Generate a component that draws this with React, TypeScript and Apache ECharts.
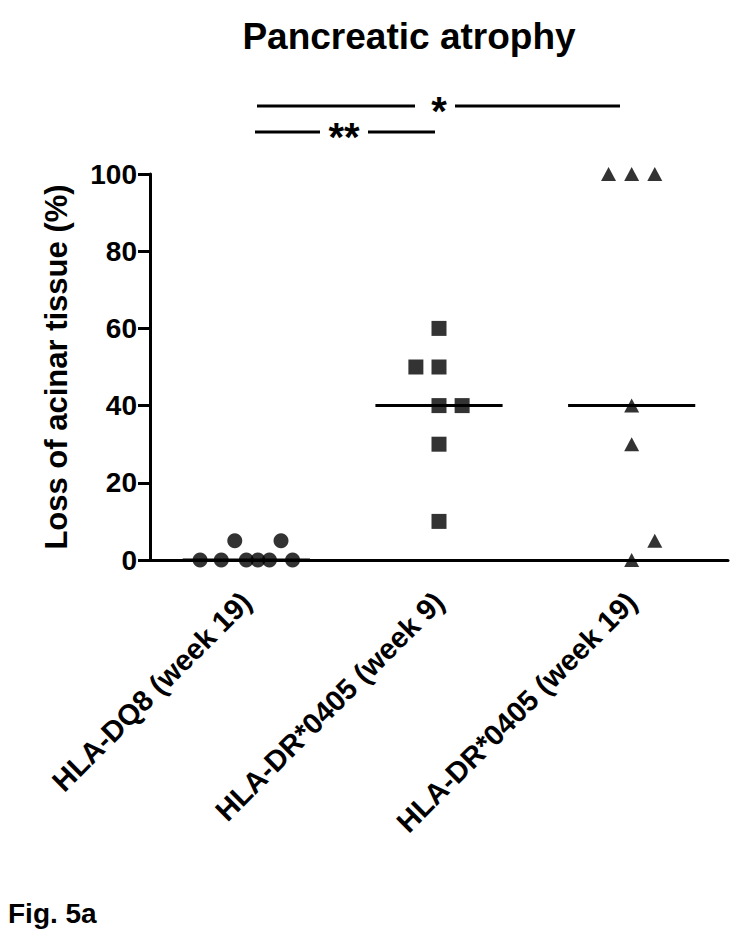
import React, { useEffect, useRef } from "react";
import * as echarts from "echarts";

const categories = ["HLA-DQ8 (week 19)", "HLA-DR*0405 (week 9)", "HLA-DR*0405 (week 19)"];

const dq8Values = [0, 0, 0, 0, 0, 0, 5, 5];
const dq8Offsets = [-0.24, -0.13, 0, 0.06, 0.12, 0.24, -0.06, 0.18];
const dr9Values = [60, 50, 50, 40, 40, 30, 10];
const dr9Offsets = [0, -0.12, 0, 0, 0.12, 0, 0];
const dr19Values = [100, 100, 100, 40, 30, 5, 0];
const dr19Offsets = [-0.12, 0, 0.12, 0, 0, 0.12, 0];
const medians = [0, 40, 40];
const medianHalfWidth = 0.33;

const FONT = "'Liberation Sans', Arial, Helvetica, sans-serif";

function pts(group: number, values: number[], offsets: number[]) {
  return values.map((v, i) => [group + offsets[i], v]);
}

export default function App() {
  const ref = useRef<HTMLDivElement>(null);
  useEffect(() => {
    document.body.style.margin = "0";
    if (!ref.current) return;
    const chart = echarts.init(ref.current, undefined, { renderer: "svg" });
    const markerBase = { type: "scatter", xAxisIndex: 1, yAxisIndex: 0, clip: false, z: 5, itemStyle: { color: "#000" } };
    const medianSeries = medians.map((m, i) => ({
      type: "line",
      xAxisIndex: 1,
      yAxisIndex: 0,
      symbol: "none",
      clip: false,
      z: 3,
      lineStyle: { color: "#000", width: 3 },
      data: [[i - medianHalfWidth, m], [i + medianHalfWidth, m]],
    }));
    const lineStyle = { stroke: "#000", lineWidth: 3 };
    chart.setOption({
      animation: false,
      backgroundColor: "#fff",
      title: {
        text: "Pancreatic atrophy",
        left: 404,
        top: 13,
        textAlign: "center",
        textStyle: { fontFamily: FONT, fontSize: 37, fontWeight: "bold", color: "#000" },
      },
      grid: { left: 150, right: 22, top: 174, bottom: 379 },
      xAxis: [
        {
          type: "category",
          data: categories,
          boundaryGap: true,
          axisLine: { lineStyle: { color: "#000", width: 3 } },
          axisTick: { alignWithLabel: true, length: 10, lineStyle: { color: "#000", width: 3 } },
          axisLabel: {
            interval: 0,
            rotate: 45,
            margin: 37,
            fontFamily: FONT,
            fontSize: 29,
            fontWeight: "bold",
            color: "#000",
          },
          splitLine: { show: false },
        },
        { type: "value", min: -0.5, max: 2.5, show: false },
      ],
      yAxis: {
        type: "value",
        min: 0,
        max: 100,
        interval: 20,
        name: "Loss of acinar tissue (%)",
        nameLocation: "middle",
        nameGap: 78,
        nameTextStyle: { fontFamily: FONT, fontSize: 31, fontWeight: "bold", color: "#000" },
        axisLine: { show: true, onZero: false, lineStyle: { color: "#000", width: 3 } },
        axisTick: { show: true, length: 12, lineStyle: { color: "#000", width: 3 } },
        axisLabel: { margin: 13, fontFamily: FONT, fontSize: 28, fontWeight: "bold", color: "#000" },
        splitLine: { show: false },
      },
      series: [
        ...medianSeries,
        { ...markerBase, symbol: "circle", symbolSize: 15, data: pts(0, dq8Values, dq8Offsets) },
        { ...markerBase, symbol: "rect", symbolSize: 15, data: pts(1, dr9Values, dr9Offsets) },
        { ...markerBase, symbol: "triangle", symbolSize: [15, 14], data: pts(2, dr19Values, dr19Offsets) },
      ],
      graphic: [
        { type: "line", shape: { x1: 257, y1: 106, x2: 415, y2: 106 }, style: lineStyle },
        { type: "line", shape: { x1: 455, y1: 106, x2: 620, y2: 106 }, style: lineStyle },
        { type: "text", x: 439, y: 91, style: { text: "*", fontFamily: FONT, fontSize: 40, fontWeight: "bold", fill: "#000", textAlign: "center", textVerticalAlign: "top" } },
        { type: "line", shape: { x1: 255, y1: 132, x2: 320, y2: 132 }, style: lineStyle },
        { type: "line", shape: { x1: 368, y1: 132, x2: 435, y2: 132 }, style: lineStyle },
        { type: "text", x: 344, y: 117, style: { text: "**", fontFamily: FONT, fontSize: 40, fontWeight: "bold", fill: "#000", textAlign: "center", textVerticalAlign: "top" } },
        { type: "text", left: 8, top: 899, style: { text: "Fig. 5a", fontFamily: FONT, fontSize: 28, fontWeight: "bold", fill: "#000" } },
      ],
    });
    return () => chart.dispose();
  }, []);
  return <div ref={ref} style={{ width: 750, height: 939 }} />;
}
